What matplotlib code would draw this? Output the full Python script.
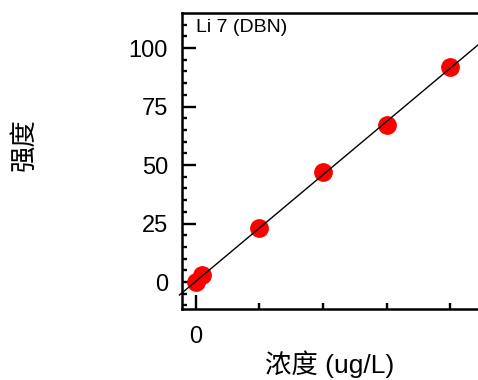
import numpy as np
import matplotlib
matplotlib.use("Agg")
import matplotlib.pyplot as plt

conc = [0, 1, 10, 20, 30, 40]
intensity = [0, 3, 23, 47, 67, 92]
title = "Li 7 (DBN)"
xlabel = "浓度 (ug/L)"
ylabel = "强度"
yticks = [0, 25, 50, 75, 100]

fams = ['Liberation Sans', 'Noto Sans CJK SC', 'DejaVu Sans']
plt.rcParams['font.family'] = fams

fig = plt.figure(figsize=(4.78, 3.8), dpi=100)
ax = fig.add_axes([182/478, 1-309/380, (478-182)/478, (309-13)/380])

slope, intercept = np.polyfit(conc, intensity, 1)
xl = np.array([-2.6, 46])
ax.plot(xl, slope*xl + intercept, color='black', lw=1.0, zorder=3, clip_on=False)
ax.plot(conc, intensity, 'o', color='#ff0000', ms=12.5, mec='#ff0000', zorder=2, clip_on=False)

ax.set_xlim(-2.2, 44.4)
ax.set_ylim(-11.5, 115)
ax.spines['right'].set_visible(False)
for s in ['left', 'bottom', 'top']:
    ax.spines[s].set_linewidth(1.8)

ax.set_yticks(yticks)
ax.set_yticks(np.arange(-10, 115, 5), minor=True)
ax.tick_params(axis='y', which='major', direction='in', length=10, width=1.7, labelsize=17, pad=10)
ax.tick_params(axis='y', which='minor', direction='in', length=3.6, width=1.7)

ax.set_xticks([0])
ax.set_xticklabels(['0'])
ax.set_xticks([10, 20, 30, 40], minor=True)
ax.tick_params(axis='x', which='major', direction='in', length=10, width=1.7, labelsize=17, pad=12)
ax.tick_params(axis='x', which='minor', direction='in', length=4.3, width=1.7)

ax.text(0.047, 0.98, title, transform=ax.transAxes, ha='left', va='top', fontsize=14)
ax.set_xlabel(xlabel, fontsize=19, labelpad=2)
ax.set_ylabel(ylabel, fontsize=19)
ax.yaxis.set_label_coords((36-182)/296, 1-(145-13)/296)

fig.savefig('out.png', dpi=100)
